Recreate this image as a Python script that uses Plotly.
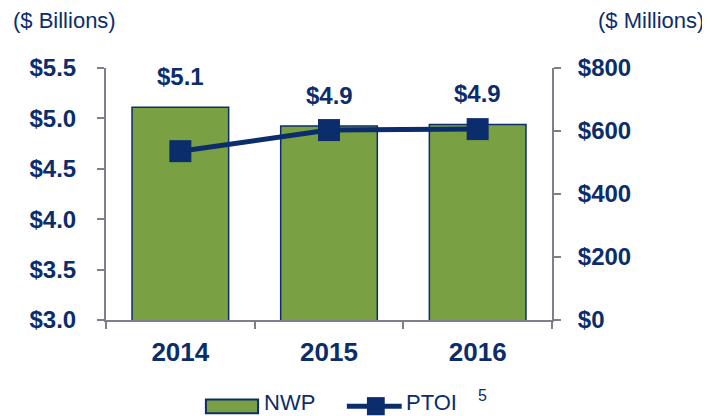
import plotly.graph_objects as go

years = ["2014", "2015", "2016"]
nwp = [5.11, 4.925, 4.94]
nwp_labels = ["$5.1", "$4.9", "$4.9"]
ptoi = [536, 603, 606]

left_ticks = [3.0, 3.5, 4.0, 4.5, 5.0, 5.5]
right_ticks = [0, 200, 400, 600, 800]

NAVY = "#0C2D6B"
GREEN = "#7AA044"
AXIS = "#7F7F8C"
FONT = "Arial, Liberation Sans, sans-serif"

fig = go.Figure()

fig.add_trace(go.Bar(
    x=years,
    y=nwp,
    name="NWP",
    marker=dict(color=GREEN, line=dict(color=NAVY, width=1.5)),
    showlegend=False,
))

fig.add_trace(go.Scatter(
    x=years,
    y=ptoi,
    name="PTOI",
    mode="lines+markers",
    yaxis="y2",
    line=dict(color=NAVY, width=5),
    marker=dict(symbol="square", size=22, color=NAVY),
    showlegend=False,
))

# category axis: annotation x must be the category index
for i, (v, lab) in enumerate(zip(nwp, nwp_labels)):
    fig.add_annotation(x=i, y=v, text=f"<b>{lab}</b>", showarrow=False,
                       yanchor="bottom", yshift=15,
                       font=dict(size=24, color=NAVY, family=FONT))

fig.add_annotation(x=-0.212, y=1.19, xref="paper", yref="paper",
                   text="($ Billions)", showarrow=False, xanchor="left", yanchor="middle",
                   font=dict(size=22, color=NAVY, family=FONT))
fig.add_annotation(x=1.345, y=1.19, xref="paper", yref="paper",
                   text="($ Millions)", showarrow=False, xanchor="right", yanchor="middle",
                   font=dict(size=22, color=NAVY, family=FONT))

# hand-drawn legend (wide swatches like the original)
fig.add_shape(type="rect", xref="paper", yref="paper",
              x0=0.224, x1=0.341, y0=-0.37, y1=-0.315,
              fillcolor=GREEN, line=dict(color=NAVY, width=2))
fig.add_annotation(x=0.350, y=-0.328, xref="paper", yref="paper", text="NWP",
                   showarrow=False, xanchor="left", yanchor="middle",
                   font=dict(size=22, color=NAVY, family=FONT))
fig.add_shape(type="line", xref="paper", yref="paper",
              x0=0.54, x1=0.663, y0=-0.342, y1=-0.342,
              line=dict(color=NAVY, width=5))
fig.add_shape(type="rect", xref="paper", yref="paper",
              x0=0.585, x1=0.625, y0=-0.378, y1=-0.306,
              fillcolor=NAVY, line=dict(color=NAVY, width=0))
fig.add_annotation(x=0.668, y=-0.328, xref="paper", yref="paper", text="PTOI",
                   showarrow=False, xanchor="left", yanchor="middle",
                   font=dict(size=22, color=NAVY, family=FONT))
fig.add_annotation(x=0.830, y=-0.298, xref="paper", yref="paper", text="5",
                   showarrow=False, xanchor="left", yanchor="middle",
                   font=dict(size=16, color=NAVY, family=FONT))

# page body has an 8px margin, so the figure is drawn 8px smaller
fig.update_layout(
    width=702,
    height=408,
    plot_bgcolor="white",
    paper_bgcolor="white",
    font=dict(family=FONT, color=NAVY),
    bargap=0.35,
    showlegend=False,
    margin=dict(l=98, r=158, t=60, b=96),
    xaxis=dict(
        type="category",
        range=[-0.5, 2.5],
        showline=True, linecolor=AXIS, linewidth=2,
        ticks="outside", ticklen=7, tickcolor=AXIS, tickwidth=2,
        tickson="boundaries",
        ticklabelstandoff=8,
        tickfont=dict(size=26, color=NAVY),
        tickvals=years,
        ticktext=[f"<b>{y}</b>" for y in years],
    ),
    yaxis=dict(
        range=[3.0, 5.5],
        tickvals=left_ticks,
        ticktext=[f"<b>${t:.1f}</b>" for t in left_ticks],
        showline=True, linecolor=AXIS, linewidth=2,
        ticks="outside", ticklen=7, tickcolor=AXIS, tickwidth=2,
        ticklabelstandoff=16,
        showgrid=False, zeroline=False,
        tickfont=dict(size=24, color=NAVY),
    ),
    yaxis2=dict(
        range=[0, 800],
        tickvals=right_ticks,
        ticktext=[f"<b>${t}</b>" for t in right_ticks],
        overlaying="y",
        side="right",
        showline=True, linecolor=AXIS, linewidth=2,
        ticks="outside", ticklen=7, tickcolor=AXIS, tickwidth=2,
        ticklabelstandoff=12,
        showgrid=False, zeroline=False,
        tickfont=dict(size=24, color=NAVY),
    ),
)

fig.write_html("out.html")
